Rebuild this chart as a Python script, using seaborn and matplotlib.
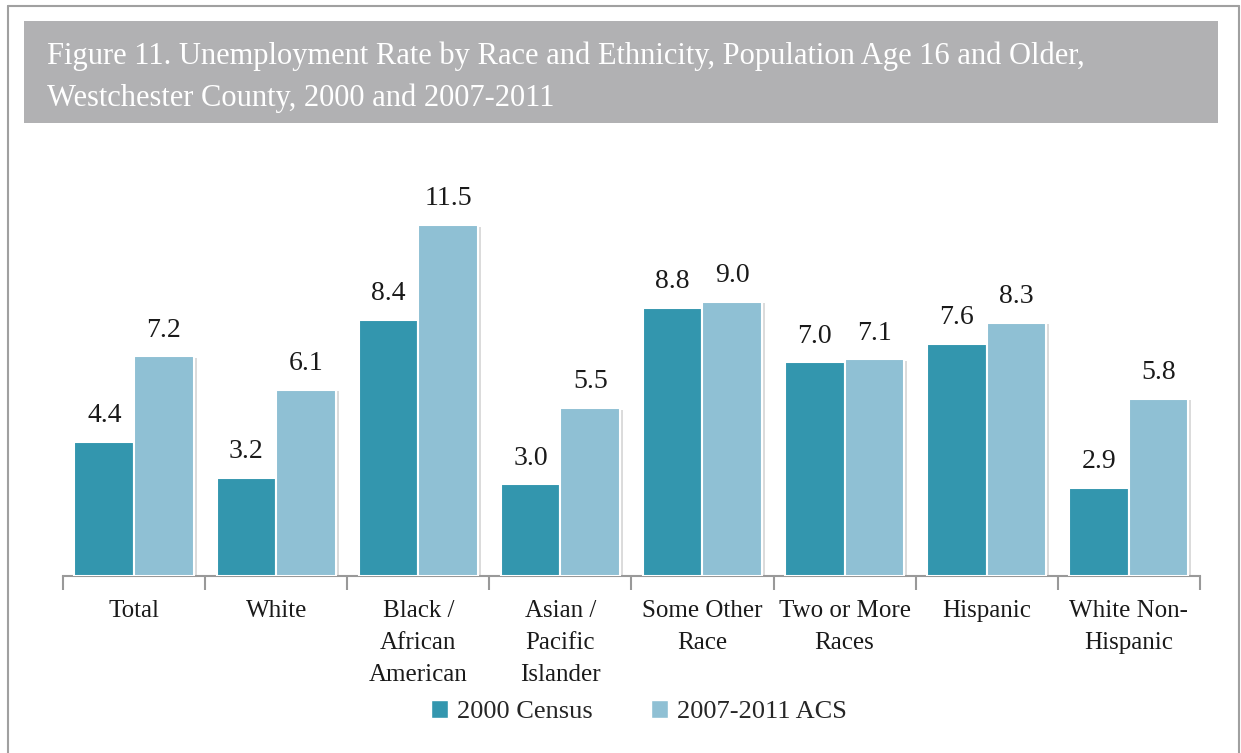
import pandas as pd
import seaborn as sns
import matplotlib.pyplot as plt
from matplotlib.patches import Rectangle
from matplotlib.lines import Line2D
import matplotlib.patheffects as pe

# Data
categories = ["Total", "White", "Black /\nAfrican\nAmerican", "Asian /\nPacific\nIslander",
              "Some Other\nRace", "Two or More\nRaces", "Hispanic", "White Non-\nHispanic"]
census_2000 = [4.4, 3.2, 8.4, 3.0, 8.8, 7.0, 7.6, 2.9]
acs_2007_2011 = [7.2, 6.1, 11.5, 5.5, 9.0, 7.1, 8.3, 5.8]
series_names = ["2000 Census", "2007-2011 ACS"]
colors = ["#3396AE", "#8FC0D4"]

df = pd.DataFrame({
    "category": categories * 2,
    "series": [series_names[0]] * len(categories) + [series_names[1]] * len(categories),
    "rate": census_2000 + acs_2007_2011,
})

sns.set_theme(style="white")
plt.rcParams["font.family"] = ["Liberation Serif", "DejaVu Serif"]

fig = plt.figure(figsize=(12.41, 7.53), dpi=100)

# outer frame and title band
fig.add_artist(Line2D([0.0065, 0.0065], [0, 0.992], transform=fig.transFigure, color="#a0a0a0", lw=1.5))
fig.add_artist(Line2D([0.0065, 0.998], [0.992, 0.992], transform=fig.transFigure, color="#a0a0a0", lw=1.5))
fig.add_artist(Line2D([0.998, 0.998], [0, 0.992], transform=fig.transFigure, color="#a0a0a0", lw=1.5))
fig.patches.append(Rectangle((0.0193, 0.8367), 0.9622, 0.1354, transform=fig.transFigure,
                             facecolor="#b1b1b3", edgecolor="none", zorder=0))
fig.text(0.038, 0.925, "Figure 11. Unemployment Rate by Race and Ethnicity, Population Age 16 and Older,",
         color="white", fontsize=22, va="center", ha="left")
fig.text(0.038, 0.869, "Westchester County, 2000 and 2007-2011",
         color="white", fontsize=22, va="center", ha="left")

ax = fig.add_axes([0.0508, 0.2351, 0.916, 0.486])
sns.barplot(data=df, x="category", y="rate", hue="series", palette=colors, saturation=1,
            width=0.84, edgecolor="white", linewidth=1.5, ax=ax, legend=False, zorder=3)

shadow = [pe.SimplePatchShadow(offset=(2, -1), shadow_rgbFace="#999999", alpha=0.35), pe.Normal()]
for container in ax.containers:
    for bar in container:
        bar.set_path_effects(shadow)
    ax.bar_label(container, fmt="%.1f", padding=10, fontsize=20, color="#1a1a1a")

ax.set_ylim(0, 12)
ax.set_xlim(-0.5, len(categories) - 0.5)
ax.set_xlabel("")
ax.set_ylabel("")
ax.set_yticks([])
for side in ["left", "right", "top"]:
    ax.spines[side].set_visible(False)
ax.spines["bottom"].set_color("#999999")
ax.spines["bottom"].set_linewidth(1.5)

ax.set_xticks(range(len(categories)))
ax.set_xticklabels(categories, fontsize=18, color="#1a1a1a", linespacing=1.6, va="top")
ax.tick_params(axis="x", which="major", bottom=True, length=0, pad=17)
ax.set_xticks([i - 0.5 for i in range(len(categories) + 1)], minor=True)
ax.tick_params(axis="x", which="minor", bottom=True, length=10, width=1.5, color="#999999", direction="out")

handles = [Rectangle((0, 0), 1, 1, facecolor=c, edgecolor="white") for c in colors]
fig.legend(handles, series_names, loc="center", bbox_to_anchor=(0.515, 0.055), ncol=2,
           frameon=False, fontsize=19, handlelength=0.65, handleheight=0.65,
           handletextpad=0.35, columnspacing=2.2)

fig.savefig("out.png", dpi=100)
